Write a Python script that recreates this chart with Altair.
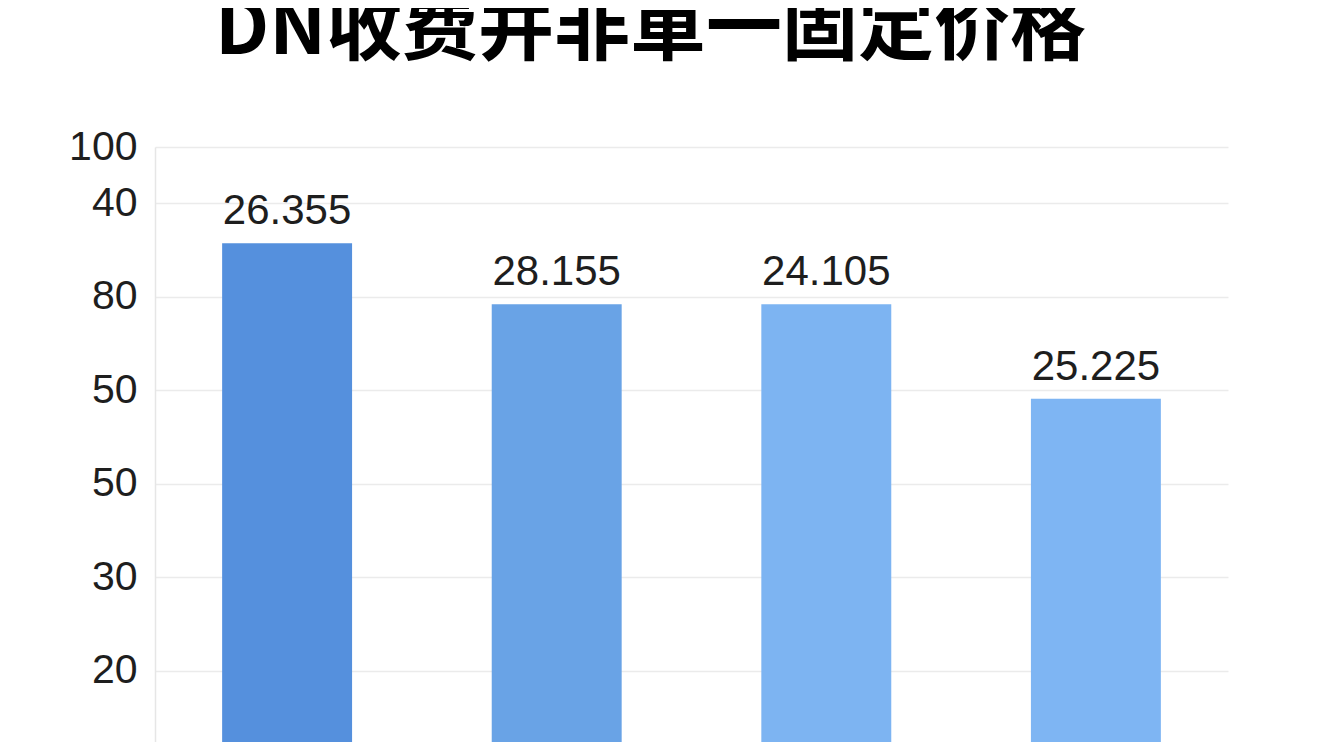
import altair as alt
import pandas as pd

title_text = "DN收费并非單一固定价格"
categories = ["A", "B", "C", "D"]
bar_heights = [55.7, 49.2, 49.2, 39.1]
value_labels = ["26.355", "28.155", "24.105", "25.225"]
bar_colors = ["#5590DD", "#69A3E6", "#7DB4F2", "#7EB5F3"]
tick_positions = [10, 20, 30, 40, 50, 60, 66]
tick_labels = ["20", "30", "50", "50", "80", "40", "100"]

df = pd.DataFrame({
    "cat": categories,
    "h": bar_heights,
    "base": [0] * len(categories),
    "lbl": value_labels,
})

expr = "''"
for p, l in zip(reversed(tick_positions), reversed(tick_labels)):
    expr = f"datum.value == {p} ? '{l}' : ({expr})"

x = alt.X("cat:N", sort=categories,
          scale=alt.Scale(paddingInner=0.518, paddingOuter=0.249),
          axis=alt.Axis(labels=False, ticks=False, domain=False, title=None, grid=False))
y_scale = alt.Scale(domain=[2.4, 66], nice=False, zero=False)

bars = alt.Chart(df).mark_bar(clip=True).encode(
    x=x,
    y=alt.Y("h:Q", scale=y_scale,
            axis=alt.Axis(values=tick_positions, labelExpr=expr, title=None,
                          labelFontSize=41, labelFont="Liberation Sans", labelColor="#1e1e1e",
                          labelPadding=18, ticks=False, domain=True, domainColor="#e6e6e6",
                          domainWidth=1.5, gridColor="#ebebeb", gridWidth=1.5)),
    y2="base:Q",
    color=alt.Color("cat:N", scale=alt.Scale(domain=categories, range=bar_colors), legend=None),
)

texts = alt.Chart(df).mark_text(
    baseline="alphabetic", dy=-19, fontSize=42, font="Liberation Sans", color="#1e1e1e"
).encode(x=alt.X("cat:N", sort=categories), y=alt.Y("h:Q", scale=y_scale), text="lbl:N")

chart = (bars + texts).properties(
    width=1073, height=595,
    background="#ffffff",
    autosize=alt.AutoSizeParams(type="none"),
    padding={"left": 147, "top": 139, "right": 100, "bottom": 0},
    title=alt.TitleParams(title_text, fontSize=76, font="Noto Sans CJK SC", fontWeight="bold",
                          color="#000000", anchor="middle", dx=-41, offset=56),
).configure_view(strokeWidth=0, strokeOpacity=0)

chart.save("out.html", embed_options={"renderer": "svg", "actions": False})
